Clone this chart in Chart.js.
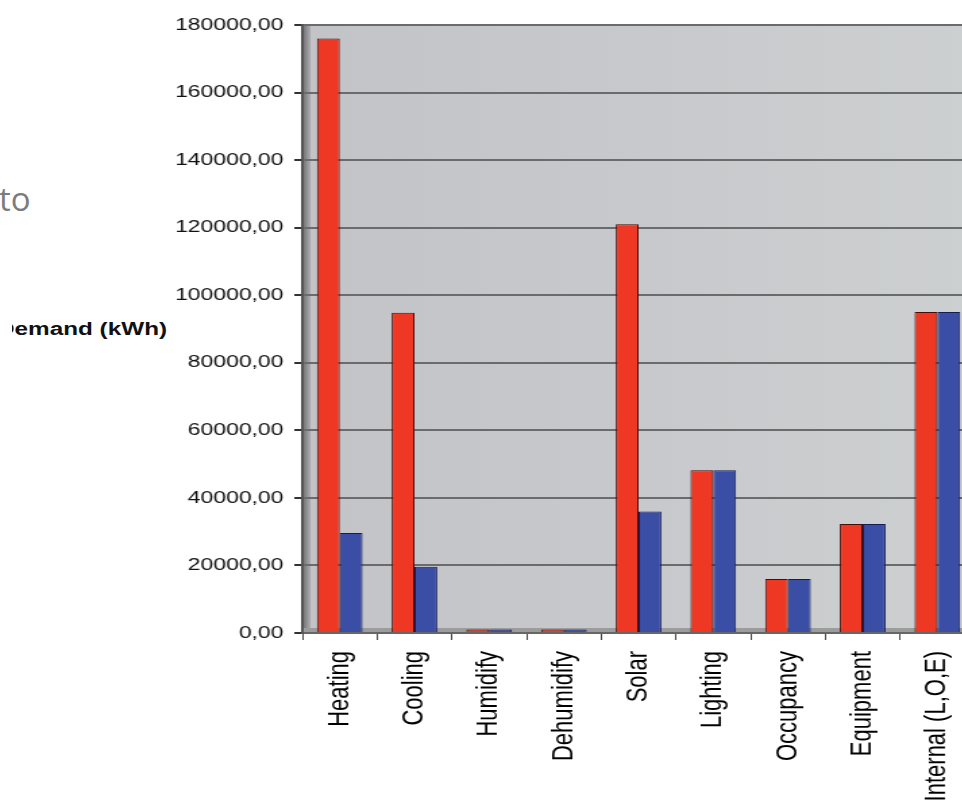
<!DOCTYPE html>
<html>
<head>
<meta charset="utf-8">
<script src="https://cdn.jsdelivr.net/npm/chart.js@4/dist/chart.umd.min.js"></script>
<style>
  html, body { margin:0; padding:0; background:#fff; }
  body { width:962px; height:802px; overflow:hidden; position:relative; }
  #wrap { position:absolute; left:0; top:0; width:734px; height:802px; transform:scaleX(1.35); transform-origin:0 0; }
  #to { position:absolute; left:-1px; top:181px; font:33px "Open Sans", sans-serif; color:#7c7c7c; line-height:36px; }
  #yclip { position:absolute; left:12px; top:314px; width:200px; height:30px; overflow:hidden; }
  #ytitle { position:absolute; left:-15px; top:5px; font:bold 18px "Liberation Sans", Arial, sans-serif; color:#111; line-height:20px; transform:scaleX(1.35); transform-origin:0 0; white-space:nowrap; }
</style>
</head>
<body>
<div id="to">to</div>
<div id="yclip"><div id="ytitle">Demand (kWh)</div></div>
<div id="wrap"><canvas id="c" width="734" height="802"></canvas></div>
<script>
const categories = ["Heating","Cooling","Humidify","Dehumidify","Solar","Lighting","Occupancy","Equipment","Internal (L,O,E)"];
const seriesRed  = [176000, 94800, 1000, 1000, 121000, 48200, 16000, 32300, 95000];
const seriesBlue = [29600, 19600, 1000, 1000, 36000, 48200, 16000, 32300, 95000];
const yTicks = [0, 20000, 40000, 60000, 80000, 100000, 120000, 140000, 160000, 180000];

const bgPlugin = {
  id: 'bg',
  beforeDraw(chart) {
    const {ctx, chartArea: a} = chart;
    ctx.save();
    const g = ctx.createLinearGradient(a.left, 0, a.right, 0);
    g.addColorStop(0, '#c3c4c8');
    g.addColorStop(0.5, '#c8c9cd');
    g.addColorStop(1, '#cdd0d0');
    ctx.fillStyle = g;
    ctx.fillRect(a.left, a.top, a.right - a.left, a.bottom - a.top);
    const w = ctx.createLinearGradient(a.left, 0, a.left + 6, 0);
    w.addColorStop(0, '#6c6c6e');
    w.addColorStop(1, '#aeaeb0');
    ctx.fillStyle = w;
    ctx.fillRect(a.left, a.top, 6, a.bottom - a.top);
    ctx.fillStyle = '#9c9c9c';
    ctx.fillRect(a.left, a.bottom - 5, a.right - a.left, 5);
    ctx.restore();
  }
};

new Chart(document.getElementById('c'), {
  type: 'bar',
  data: {
    labels: categories,
    datasets: [
      { data: seriesRed, backgroundColor: '#ef3824', borderColor: '#4a0c08', borderWidth: 1 },
      { data: seriesBlue, backgroundColor: '#3a4ea6', borderColor: '#151b55', borderWidth: 1 }
    ]
  },
  options: {
    responsive: false,
    animation: false,
    devicePixelRatio: 1,
    layout: { padding: { left: 0, right: 12, top: 25, bottom: 0 } },
    plugins: { legend: { display: false }, tooltip: { enabled: false } },
    datasets: { bar: { categoryPercentage: 0.61, barPercentage: 1.0 } },
    scales: {
      x: {
        offset: true,
        grid: { display: true, offset: true, drawOnChartArea: false, tickLength: 7, tickColor: '#444', lineWidth: 1 },
        border: { display: true, color: '#666', width: 2 },
        ticks: {
          autoSkip: false, minRotation: 90, maxRotation: 90, padding: 11,
          color: '#000', font: { family: '"Liberation Sans", Arial, sans-serif', size: 22 }
        },
        afterFit(s) { s.height = 169; }
      },
      y: {
        min: 0, max: 180000,
        afterBuildTicks(s) { s.ticks = yTicks.map(v => ({ value: v })); },
        grid: { color: '#6b6b6b', lineWidth: 2, tickLength: 6, tickColor: '#333' },
        border: { display: true, color: '#555', width: 2 },
        ticks: {
          padding: 8, color: '#111',
          font: { family: '"Liberation Sans", Arial, sans-serif', size: 17 },
          callback: v => v.toFixed(2).replace('.', ',')
        },
        afterFit(s) { s.width = 224; }
      }
    }
  },
  plugins: [bgPlugin]
});
</script>
</body>
</html>
